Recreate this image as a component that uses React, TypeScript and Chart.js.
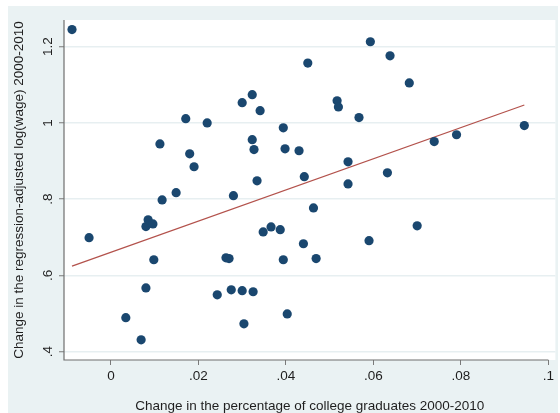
import React, { useEffect, useRef } from 'react';
import { Chart, registerables } from 'chart.js';

Chart.register(...registerables);

const xValues = [
  -0.0089, -0.005, 0.0034, 0.0069, 0.008, 0.008, 0.0085, 0.0096, 0.0098, 0.0117,
  0.0112, 0.0149, 0.0171, 0.018, 0.019, 0.022, 0.0243, 0.0263, 0.027, 0.0275,
  0.028, 0.030, 0.0304, 0.030, 0.0323, 0.0323, 0.0327, 0.0325, 0.0341, 0.0334,
  0.0348, 0.0366, 0.0387, 0.0394, 0.0398, 0.0394, 0.0403, 0.043, 0.044, 0.0442,
  0.045, 0.0463, 0.0469, 0.0517, 0.052, 0.0542, 0.0542, 0.0567, 0.0593, 0.059,
  0.0632, 0.0638, 0.0682, 0.070, 0.0739, 0.079, 0.0945,
];
const yValues = [
  1.245, 0.699, 0.489, 0.431, 0.567, 0.728, 0.746, 0.735, 0.641, 0.798,
  0.945, 0.817, 1.011, 0.919, 0.885, 1.0, 0.549, 0.646, 0.644, 0.562,
  0.809, 0.56, 0.473, 1.053, 1.074, 0.956, 0.93, 0.557, 1.032, 0.848,
  0.714, 0.727, 0.72, 0.987, 0.932, 0.641, 0.499, 0.927, 0.683, 0.859,
  1.157, 0.777, 0.644, 1.058, 1.042, 0.898, 0.84, 1.014, 1.213, 0.691,
  0.869, 1.176, 1.105, 0.73, 0.951, 0.969, 0.993,
];
const fitX = [-0.0089, 0.0945];
const fitY = [0.624, 1.047];
const xTicks = [0, 0.02, 0.04, 0.06, 0.08, 0.1];
const yTicks = [0.4, 0.6, 0.8, 1, 1.2];
const xTitle = 'Change in the percentage of college graduates 2000-2010';
const yTitle = 'Change in the regression-adjusted log(wage) 2000-2010';

const FONT = '"Liberation Sans", Arial, Helvetica, sans-serif';
const FS = 13.5;

function fmt(v: number): string {
  const s = String(+v.toFixed(4));
  return s.replace(/^0\./, '.').replace(/^-0\./, '-.');
}

const framePlugin = {
  id: 'frame',
  beforeDraw(chart: any) {
    const { ctx, chartArea } = chart;
    ctx.save();
    ctx.fillStyle = '#ffffff';
    ctx.fillRect(0, 0, chart.width, chart.height);
    ctx.fillStyle = '#eaf2f3';
    ctx.fillRect(8, 6, 550, 407);
    ctx.fillStyle = '#ffffff';
    ctx.fillRect(chartArea.left, chartArea.top, chartArea.right - chartArea.left, chartArea.bottom - chartArea.top);
    ctx.restore();
  },
  afterDraw(chart: any) {
    const { ctx, chartArea } = chart;
    const xs = chart.scales.x;
    const ys = chart.scales.y;
    ctx.save();
    ctx.strokeStyle = '#6f6f6f';
    ctx.lineWidth = 1.2;
    ctx.beginPath();
    ctx.moveTo(chartArea.left, chartArea.top);
    ctx.lineTo(chartArea.left, chartArea.bottom);
    ctx.lineTo(xs.getPixelForValue(xTicks[xTicks.length - 1]), chartArea.bottom);
    ctx.stroke();
    ctx.fillStyle = '#1e1e1e';
    ctx.font = `${FS}px ${FONT}`;
    ctx.textAlign = 'center';
    ctx.textBaseline = 'alphabetic';
    for (const v of yTicks) {
      const py = ys.getPixelForValue(v);
      ctx.save();
      ctx.translate(chartArea.left - 12, py);
      ctx.rotate(-Math.PI / 2);
      ctx.fillText(fmt(v), 0, 0);
      ctx.restore();
    }
    ctx.restore();
  },
};

export default function App() {
  const ref = useRef<HTMLCanvasElement | null>(null);
  useEffect(() => {
    if (!ref.current) return;
    const points = xValues.map((x, i) => ({ x, y: yValues[i] }));
    const fit = fitX.map((x, i) => ({ x, y: fitY[i] }));
    const chart = new Chart(ref.current, {
      type: 'scatter',
      data: {
        datasets: [
          {
            type: 'line',
            data: fit,
            borderColor: '#b3524c',
            borderWidth: 1.3,
            pointRadius: 0,
            fill: false,
            order: 2,
          } as any,
          {
            type: 'scatter',
            data: points,
            backgroundColor: '#1a476f',
            borderColor: '#1a476f',
            borderWidth: 0,
            pointRadius: 4.6,
            order: 1,
          },
        ],
      },
      options: {
        animation: false,
        responsive: false,
        devicePixelRatio: 1,
        layout: { padding: { left: 0, right: 4, top: 20, bottom: 0 } },
        plugins: { legend: { display: false }, tooltip: { enabled: false } },
        scales: {
          x: {
            type: 'linear',
            min: -0.01073,
            max: 0.1016,
            afterBuildTicks: (s: any) => {
              s.ticks = xTicks.map((v) => ({ value: v }));
            },
            afterFit: (s: any) => {
              s.height = 53;
            },
            grid: {
              drawOnChartArea: false,
              drawTicks: true,
              tickLength: 5,
              tickColor: '#7a7a7a',
              tickWidth: 1,
            },
            border: { display: false },
            ticks: {
              callback: (v: any) => fmt(Number(v)),
              font: { family: FONT, size: FS },
              color: '#1e1e1e',
              padding: 3,
              maxRotation: 0,
              autoSkip: false,
            },
            title: {
              display: true,
              text: xTitle,
              font: { family: FONT, size: FS, lineHeight: 1 },
              color: '#1e1e1e',
              padding: { top: 0, bottom: 0 },
            },
          },
          y: {
            type: 'linear',
            min: 0.378,
            max: 1.27,
            afterBuildTicks: (s: any) => {
              s.ticks = yTicks.map((v) => ({ value: v }));
            },
            afterFit: (s: any) => {
              s.width = 64;
            },
            grid: {
              color: '#e7eff1',
              lineWidth: 1.5,
              drawTicks: true,
              tickLength: 5,
              tickColor: '#7a7a7a',
              tickWidth: 1,
            },
            border: { display: false },
            ticks: { display: false },
            title: {
              display: true,
              text: yTitle,
              font: { family: FONT, size: FS, lineHeight: 1 },
              color: '#1e1e1e',
              padding: { top: 13, bottom: 0 },
            },
          },
        },
      },
      plugins: [framePlugin],
    });
    return () => chart.destroy();
  }, []);
  return (
    <div style={{ position: 'absolute', left: 0, top: 0, width: 560, height: 413 }}>
      <canvas ref={ref} width={560} height={413} />
    </div>
  );
}
